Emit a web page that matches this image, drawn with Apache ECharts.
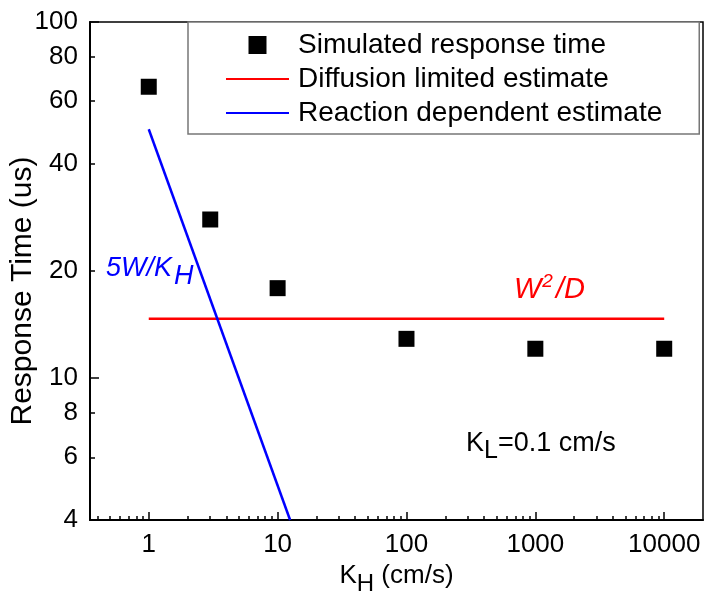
<!DOCTYPE html>
<html>
<head>
<meta charset="utf-8">
<script src="https://cdn.jsdelivr.net/npm/echarts@6/dist/echarts.min.js"></script>
<style>
  html, body { margin: 0; padding: 0; background: #fff; }
  #chart { width: 705px; height: 594px; }
</style>
</head>
<body>
<div id="chart"></div>
<script>
// simulated points (K_H in cm/s, response time in us)
var simX = [1, 3, 10, 100, 1000, 10000];
var simY = [65.8, 27.9, 17.9, 12.9, 12.1, 12.1];
// W^2/D estimate
var diffX = [1, 10000];
var diffY = [14.7, 14.7];
// 5W/K_H estimate
var reactX = [1, 12.5];
var reactY = [50, 4];

var xMajor = [1, 10, 100, 1000, 10000];
var xMinor = [0.4, 0.5, 0.6, 0.7, 0.8, 0.9,
  2, 3, 4, 5, 6, 7, 8, 9,
  20, 30, 40, 50, 60, 70, 80, 90,
  200, 300, 400, 500, 600, 700, 800, 900,
  2000, 3000, 4000, 5000, 6000, 7000, 8000, 9000];
var yMajor = [10, 100];
var yMinor = [4, 6, 8, 20, 40, 60, 80];
var yLabels = [4, 6, 8, 10, 20, 40, 60, 80, 100];

var FONT = '"Liberation Sans", Arial, sans-serif';

function pairs(xs, ys) {
  var out = [];
  for (var i = 0; i < xs.length; i++) out.push([xs[i], ys[i]]);
  return out;
}

var chart = echarts.init(document.getElementById('chart'));

var option = {
  animation: false,
  textStyle: { fontFamily: FONT },
  grid: {
    left: 90, top: 22, right: 2, bottom: 74,
    containLabel: false,
    outerBoundsMode: 'none',
    show: true, borderColor: '#000', borderWidth: 1.5
  },
  legend: {
    left: 188, top: 22,
    orient: 'vertical',
    padding: [9, 37, 7, 37],
    itemGap: 6,
    itemWidth: 63,
    itemHeight: 18,
    symbolKeepAspect: true,
    backgroundColor: '#fff',
    borderColor: '#777',
    borderWidth: 1.5,
    borderRadius: 0,
    textStyle: { fontSize: 28, color: '#000', fontFamily: FONT, padding: [0, 0, 0, 4] },
    data: [
      { name: 'Simulated response time', icon: 'path://M0,0h10v10h-10z' },
      { name: 'Diffusion limited estimate', itemStyle: { opacity: 0 } },
      { name: 'Reaction dependent estimate', itemStyle: { opacity: 0 } }
    ]
  },
  xAxis: [
    {
      type: 'log', logBase: 10, min: 0.35, max: 20000,
      name: '{m|K}{s|H}{m| (cm/s)}',
      nameLocation: 'middle', nameGap: 35,
      nameTextStyle: {
        rich: {
          m: { fontSize: 26, fontFamily: FONT, color: '#000' },
          s: { fontSize: 24, fontFamily: FONT, color: '#000', padding: [16, 0, 0, 0] }
        }
      },
      axisLine: { lineStyle: { color: '#000', width: 2 } },
      axisTick: { inside: true, length: 8, lineStyle: { color: '#000', width: 1.5 }, customValues: xMajor },
      axisLabel: { fontSize: 26, color: '#000', margin: 12, customValues: xMajor, formatter: function (v) { return String(v); } },
      splitLine: { show: false },
      minorTick: { show: false }
    },
    {
      type: 'log', logBase: 10, min: 0.35, max: 20000,
      position: 'bottom',
      axisLine: { show: false },
      axisTick: { inside: true, length: 4, lineStyle: { color: '#000', width: 1.5 }, customValues: xMinor },
      axisLabel: { show: false },
      splitLine: { show: false }
    }
  ],
  yAxis: [
    {
      type: 'log', logBase: 10, min: 4, max: 100,
      name: 'Response Time (us)',
      nameLocation: 'middle', nameGap: 52,
      nameMoveOverlap: false,
      nameTextStyle: { fontSize: 30, color: '#000', fontFamily: FONT, padding: [0, 40, 0, 0] },
      axisLine: { lineStyle: { color: '#000', width: 2 } },
      axisTick: { inside: true, length: 9, lineStyle: { color: '#000', width: 1.5 }, customValues: yMajor },
      axisLabel: { fontSize: 26, color: '#000', margin: 12, customValues: yLabels, formatter: function (v) { return String(v); } },
      splitLine: { show: false }
    },
    {
      type: 'log', logBase: 10, min: 4, max: 100,
      position: 'left',
      axisLine: { show: false },
      axisTick: { inside: true, length: 5, lineStyle: { color: '#000', width: 1.5 }, customValues: yMinor },
      axisLabel: { show: false },
      splitLine: { show: false }
    }
  ],
  series: [
    {
      name: 'Diffusion limited estimate',
      type: 'line',
      data: pairs(diffX, diffY),
      symbol: 'none',
      lineStyle: { color: '#ff0000', width: 2.5 },
      itemStyle: { color: '#ff0000' },
      z: 3
    },
    {
      name: 'Reaction dependent estimate',
      type: 'line',
      data: pairs(reactX, reactY),
      symbol: 'none',
      lineStyle: { color: '#0000ff', width: 2.5 },
      itemStyle: { color: '#0000ff' },
      z: 3
    },
    {
      name: 'Simulated response time',
      type: 'scatter',
      data: pairs(simX, simY),
      symbol: 'rect',
      symbolSize: 16,
      itemStyle: { color: '#000', opacity: 1 },
      z: 4
    }
  ],
  graphic: [
    {
      type: 'text', left: 106, top: 255, z: 10,
      style: {
        text: '{m|5W/K}{s|H}',
        rich: {
          m: { fontSize: 27, fontStyle: 'italic', fontFamily: FONT, fill: '#0000ff' },
          s: { fontSize: 27, fontStyle: 'italic', fontFamily: FONT, fill: '#0000ff', padding: [16, 0, 0, 2] }
        }
      }
    },
    {
      type: 'text', left: 514, top: 272, z: 10,
      style: {
        text: '{m|W}{p|2}{m|/D}',
        rich: {
          m: { fontSize: 29, fontStyle: 'italic', fontFamily: FONT, fill: '#ff0000' },
          p: { fontSize: 19, fontStyle: 'italic', fontFamily: FONT, fill: '#ff0000', padding: [0, 3, 16, 1] }
        }
      }
    },
    {
      type: 'text', left: 466, top: 430, z: 10,
      style: {
        text: '{m|K}{s|L}{m|=0.1 cm/s}',
        rich: {
          m: { fontSize: 27, fontFamily: FONT, fill: '#000' },
          s: { fontSize: 25, fontFamily: FONT, fill: '#000', padding: [16, 0, 0, 0] }
        }
      }
    }
  ]
};

chart.setOption(option);
</script>
</body>
</html>
